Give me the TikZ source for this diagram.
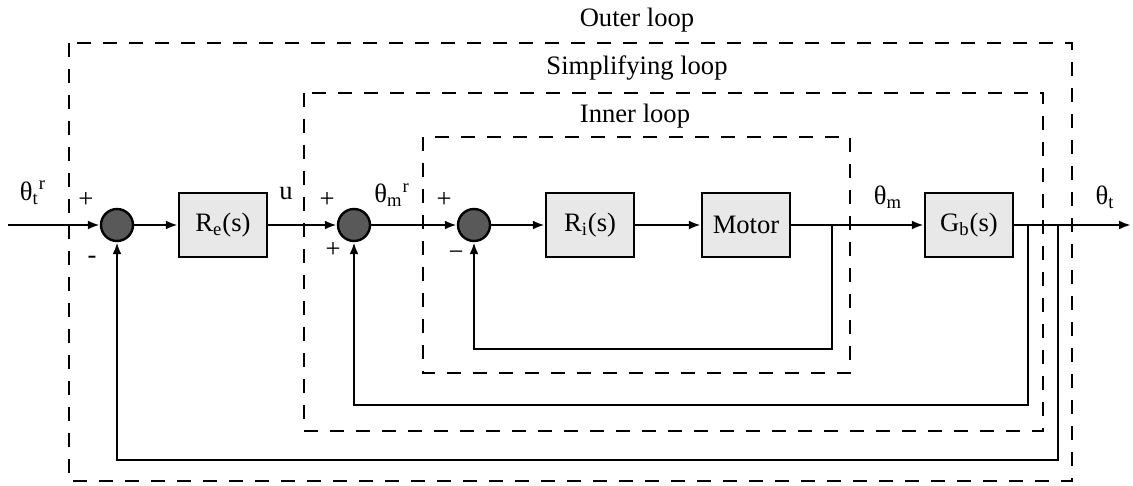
\documentclass[tikz,border=0pt]{standalone}
\usepackage{fontspec}
\setmainfont{Liberation Serif}
\usetikzlibrary{arrows.meta}

\begin{document}
\begin{tikzpicture}[x=0.5pt, y=-0.5pt, line width=1.2pt,
    font=\fontsize{13.3}{15}\selectfont,
    blockbox/.style={draw, fill=gray!18, minimum width=44pt, minimum height=32pt, inner sep=0pt},
    sumnode/.style={draw, circle, fill=black!65, minimum size=16pt, inner sep=0pt},
    loopbox/.style={dash pattern=on 7pt off 6pt, line width=1.4pt},
    sig/.style={-{Latex[length=6pt,width=4.5pt]}}]
            \useasboundingbox (0,0) rectangle (1133,486);
            % loops
            \draw[loopbox] (69,43) rectangle (1072,481);
            \draw[loopbox] (304,93) rectangle (1043,431);
            \draw[loopbox] (423,137) rectangle (850,373);
            \node (outerlbl) at (637,20) {Outer loop};
            \node (simplbl) at (637,68) {Simplifying loop};
            \node (innerlbl) at (635,116) {Inner loop};
            % blocks
            \coordinate (in) at (8,225);
            \node[sumnode] (sum1) at (117,225) {};
            \node[blockbox] (re) at (223,225) {R\textsubscript{e}(s)};
            \node[sumnode] (sum2) at (354,225) {};
            \node[sumnode] (sum3) at (474,225) {};
            \node[blockbox] (ri) at (590,225) {R\textsubscript{i}(s)};
            \node[blockbox] (motor) at (746,225) {Motor};
            \node[blockbox] (gb) at (969,225) {G\textsubscript{b}(s)};
            \coordinate (out) at (1131,225);
            % forward path
            \draw[sig] (in) -- (sum1);
            \draw[sig] (sum1) -- (re);
            \draw[sig] (re) -- (sum2);
            \draw[sig] (sum2) -- (sum3);
            \draw[sig] (sum3) -- (ri);
            \draw[sig] (ri) -- (motor);
            \draw[sig] (motor) -- (gb);
            \draw[sig] (gb) -- (out);
            % feedback
            \coordinate (tapm) at (832,225);
            \coordinate (tapg) at (1028,225);
            \coordinate (tapo) at (1058,225);
            \draw[sig] (tapm) -- ++(0,124) -| (sum3.south);
            \draw[sig] (tapg) -- ++(0,180) -| (sum2.south);
            \draw[sig] (tapo) -- ++(0,235) -| (sum1.south);
            % signs and signals
            \node (thtr) at (33,193) {θ\textsubscript{t}\textsuperscript{r}};
            \node (p1) at (86,200) {+};
            \node (m1) at (92,260) {-};
            \node (ulbl) at (286,194) {u};
            \node (p2) at (327,200) {+};
            \node (p3) at (333,250) {+};
            \node (thmr) at (392,195) {θ\textsubscript{m}\textsuperscript{r}};
            \node (p4) at (444,200) {+};
            \node (m3) at (456,256) {−};
            \node (thm) at (888,197) {θ\textsubscript{m}};
            \node (tht) at (1105,197) {θ\textsubscript{t}};
        \end{tikzpicture}
\end{document}
